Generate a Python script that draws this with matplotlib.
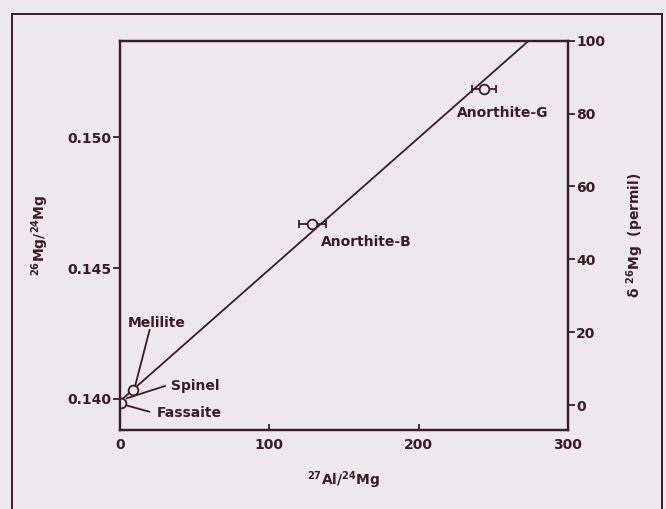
import matplotlib.pyplot as plt
from matplotlib.patches import Rectangle

# values
mineral_names = ['Fassaite', 'Spinel / Melilite', 'Anorthite-B', 'Anorthite-G']
al_mg = [0.5, 8.9, 128.7, 244.0]
al_mg_err = [0, 0, 9.0, 8.0]
mg_ratio = [0.13984, 0.14034, 0.14669, 0.15183]

# fitted isochron
line_x = [0, 273.7]
line_y = [0.13992, 0.15369]

# label text positions and leader lines (data coords)
labels = ['Melilite', 'Spinel', 'Fassaite', 'Anorthite-B', 'Anorthite-G']
label_x = [4.9, 34.2, 24.3, 134.4, 225.5]
label_y = [0.14289, 0.140508, 0.139454, 0.146011, 0.150917]
leader_x = [[19.8, 10.0], [30.1, 4.5], [19.6, 3.3]]
leader_y = [[0.142637, 0.14047], [0.140497, 0.140027], [0.139515, 0.139771]]

left_ticks = [0.140, 0.145, 0.150]
right_ticks = [0, 20, 40, 60, 80, 100]
x_ticks = [0, 100, 200, 300]

ink = '#3d1b25'
bg = '#ece8ec'

plt.rcParams['font.family'] = 'DejaVu Sans'
plt.rcParams['font.weight'] = 'bold'
plt.rcParams['axes.labelweight'] = 'bold'
plt.rcParams['mathtext.default'] = 'bf'
plt.rcParams['text.color'] = ink

fig = plt.figure(figsize=(6.66, 5.09), dpi=100, facecolor=bg)
ax = fig.add_axes([0.1802, 0.1552, 0.6727, 0.7648])
ax.set_facecolor(bg)

# outer frame around the figure
fig.patches.append(Rectangle((0.018, -0.05), 0.976, 1.0225, transform=fig.transFigure,
                             fill=False, edgecolor=ink, linewidth=1.4))

ax.plot(line_x, line_y, color=ink, linewidth=1.3, zorder=2)
ax.errorbar(al_mg, mg_ratio, xerr=al_mg_err, fmt='o', mfc=bg, mec=ink, mew=1.3,
            ms=7, ecolor=ink, elinewidth=1.3, capsize=3, capthick=1.3, zorder=3)

for i in range(len(leader_x)):
    ax.plot(leader_x[i], leader_y[i], color=ink, linewidth=1.3, zorder=2)
for i in range(len(labels)):
    ax.text(label_x[i], label_y[i], labels[i], ha='left', va='center', fontsize=10)

ax.set_xlim(0, 300)
ax.set_ylim(0.138815, 0.15369)
ax.set_xticks(x_ticks)
ax.set_yticks(left_ticks)
ax.set_yticklabels(['%.3f' % t for t in left_ticks])
ax.tick_params(axis='y', direction='out', length=5, width=1.3, colors=ink, labelsize=10, pad=1)
ax.tick_params(axis='x', direction='in', length=4, width=1.3, colors=ink, labelsize=10, pad=6)
ax.set_xlabel(r'$^{27}$Al/$^{24}$Mg', fontsize=10, color=ink, labelpad=12)
ax.set_ylabel(r'$^{26}$Mg/$^{24}$Mg', fontsize=10, color=ink, labelpad=12)

ax2 = ax.twinx()
ax2.set_ylim(-6.85, 100)
ax2.set_yticks(right_ticks)
ax2.tick_params(axis='y', direction='out', length=5, width=1.3, colors=ink, labelsize=10, pad=1)
ax2.set_ylabel(r'$\delta$ $^{26}$Mg  (permil)', fontsize=10, color=ink, labelpad=14)

for a in (ax, ax2):
    for s in a.spines.values():
        s.set_color(ink)
        s.set_linewidth(1.6)

fig.savefig('out.png', dpi=100, facecolor=bg)
